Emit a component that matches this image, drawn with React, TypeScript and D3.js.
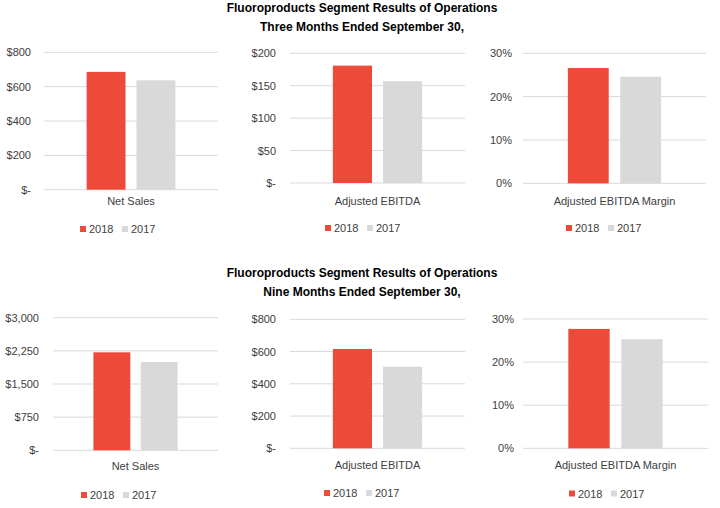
import React from "react";
import * as d3 from "d3";

const categories = ["Net Sales", "Adjusted EBITDA", "Adjusted EBITDA Margin"];
const seriesNames = ["2018", "2017"];
const seriesColors = ["#EE4A3A", "#D9D9D9"];

const titleThree = ["Fluoroproducts Segment Results of Operations", "Three Months Ended September 30,"];
const titleNine = ["Fluoroproducts Segment Results of Operations", "Nine Months Ended September 30,"];

const threeMonths2018 = [686, 181, 0.266];
const threeMonths2017 = [637, 157, 0.246];
const nineMonths2018 = [2217, 616, 0.277];
const nineMonths2017 = [1998, 506, 0.253];

const salesTicks3M = [0, 200, 400, 600, 800];
const salesLabels3M = ["$-", "$200", "$400", "$600", "$800"];
const ebitdaTicks3M = [0, 50, 100, 150, 200];
const ebitdaLabels3M = ["$-", "$50", "$100", "$150", "$200"];
const marginTicks = [0, 0.1, 0.2, 0.3];
const marginLabels = ["0%", "10%", "20%", "30%"];
const salesTicks9M = [0, 750, 1500, 2250, 3000];
const salesLabels9M = ["$-", "$750", "$1,500", "$2,250", "$3,000"];
const ebitdaTicks9M = [0, 200, 400, 600, 800];
const ebitdaLabels9M = ["$-", "$200", "$400", "$600", "$800"];

const FONT = "'Liberation Sans', Arial, sans-serif";

type Panel = {
  left: number; right: number; top: number; bottom: number;
  ticks: number[]; labels: string[]; values: number[];
  category: string; labelY: number; legendX: number; legendY: number; tickGap: number;
};

const layouts = [
  { left: 44, right: 218, top: 52.3, bottom: 189.7, labelY: 204.5, legendX: 80, legendY: 229, tickGap: 13 },
  { left: 290, right: 465, top: 53.3, bottom: 183, labelY: 204.5, legendX: 325, legendY: 228, tickGap: 14 },
  { left: 523, right: 706, top: 53.3, bottom: 183.3, labelY: 204.5, legendX: 566, legendY: 228, tickGap: 11 },
  { left: 53, right: 218, top: 317.7, bottom: 450.3, labelY: 470, legendX: 81, legendY: 495, tickGap: 14 },
  { left: 290, right: 465, top: 319.3, bottom: 448.3, labelY: 469, legendX: 324, legendY: 493, tickGap: 14 },
  { left: 523, right: 708, top: 319, bottom: 448.3, labelY: 469, legendX: 569, legendY: 493.5, tickGap: 9 },
];

const tickSets = [salesTicks3M, ebitdaTicks3M, marginTicks, salesTicks9M, ebitdaTicks9M, marginTicks];
const labelSets = [salesLabels3M, ebitdaLabels3M, marginLabels, salesLabels9M, ebitdaLabels9M, marginLabels];

const panels: Panel[] = layouts.map((l, i) => {
  const row = i < 3 ? 0 : 1;
  const c = i % 3;
  const a = row === 0 ? threeMonths2018 : nineMonths2018;
  const b = row === 0 ? threeMonths2017 : nineMonths2017;
  return { ...l, ticks: tickSets[i], labels: labelSets[i], values: [a[c], b[c]], category: categories[c] };
});

function ChartPanel({ p }: { p: Panel }) {
  const y = d3.scaleLinear().domain([0, p.ticks[p.ticks.length - 1]]).range([p.bottom, p.top]);
  const w = p.right - p.left;
  const cx = (p.left + p.right) / 2;
  const x = d3.scaleBand<string>().domain(seriesNames).range([cx - 0.255 * w, cx + 0.255 * w]).paddingInner(0.22).paddingOuter(0);
  return (
    <g>
      {p.ticks.map((t, i) => (
        <g key={i}>
          <line x1={p.left} x2={p.right} y1={y(t)} y2={y(t)} stroke="#D9D9D9" strokeWidth={1} />
          <text x={p.left - p.tickGap} y={y(t) + 4} textAnchor="end" fontSize={11} fill="#404040" fontFamily={FONT}>
            {p.labels[i]}
          </text>
        </g>
      ))}
      {seriesNames.map((s, i) => (
        <rect key={s} x={x(s)} width={x.bandwidth()} y={y(p.values[i])} height={p.bottom - y(p.values[i])} fill={seriesColors[i]} />
      ))}
      <text x={cx} y={p.labelY} textAnchor="middle" fontSize={11} fill="#404040" fontFamily={FONT}>{p.category}</text>
      {seriesNames.map((s, i) => (
        <g key={s} transform={`translate(${p.legendX + i * 42},${p.legendY})`}>
          <rect x={0} y={-3} width={6} height={6} fill={seriesColors[i]} />
          <text x={9} y={4} fontSize={11} fill="#404040" fontFamily={FONT}>{s}</text>
        </g>
      ))}
    </g>
  );
}

export default function App() {
  return (
    <svg width={720} height={508} style={{ position: "absolute", left: 0, top: 0, background: "#fff" }}>
      <rect width={720} height={508} fill="#fff" />
      {[titleThree, titleNine].map((t, r) => (
        <text key={r} x={362} textAnchor="middle" fontSize={12} fontWeight="bold" fill="#000" fontFamily={FONT}>
          <tspan x={362} y={r === 0 ? 12 : 277}>{t[0]}</tspan>
          <tspan x={362} y={r === 0 ? 31 : 296}>{t[1]}</tspan>
        </text>
      ))}
      {panels.map((p, i) => <ChartPanel key={i} p={p} />)}
    </svg>
  );
}
